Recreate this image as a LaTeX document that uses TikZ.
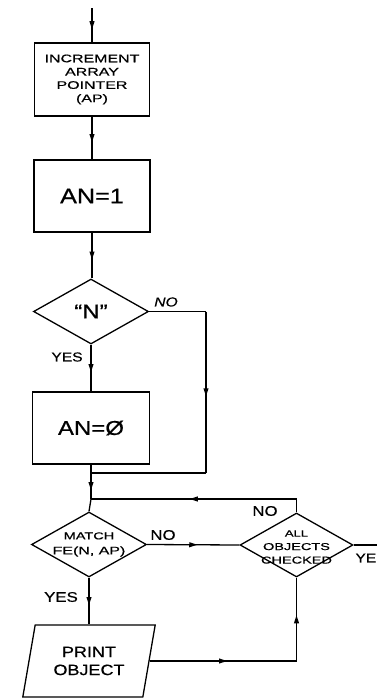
\documentclass[tikz,border=0pt]{standalone}
\usepackage{fontspec}
\setmainfont{Liberation Sans}
\newfontfamily\handA[FakeStretch=1.2,FakeBold=0.6]{Liberation Sans}
\newfontfamily\handB[FakeStretch=1.45,FakeBold=0.6]{Liberation Sans}
\usetikzlibrary{shapes.geometric,decorations.markings}
\begin{document}
\begin{tikzpicture}[x=1pt,y=-1pt,
  ln/.style={line width=1.3pt},
  flow/.style={ln, postaction={decorate}, decoration={markings,
      mark=at position 0.5 with {\fill (4pt,0pt) -- (-4pt,2.6pt) -- (-4pt,-2.6pt) -- cycle;}}},
  procbox/.style={draw, ln, rectangle, inner sep=0pt, align=center},
  decbox/.style={draw, ln, diamond, inner sep=0pt, aspect=1.77},
  inner/.style={inner sep=0pt, align=center},
  iobox/.style={draw, ln, trapezium, trapezium left angle=74, trapezium right angle=106,
      trapezium stretches=true, inner sep=0pt, align=center},
  lbl/.style={inner sep=0pt, font=\handA\fontsize{14}{14}\selectfont}
]
\fill[white] (0,0) rectangle (377,699);
\useasboundingbox (0,0) rectangle (377,699);

% nodes
\node[procbox, minimum width=115pt, minimum height=73pt,
      font=\handB\fontsize{11}{13.3}\selectfont] (inc) at (92,79.5)
      {INCREMENT\\ARRAY\\POINTER\\(AP)};
\node[procbox, minimum width=116pt, minimum height=72pt,
      font=\handA\fontsize{21}{21}\selectfont] (an1) at (92,196) {AN=1};
\node[decbox, minimum width=115pt, minimum height=65pt] (dN) at (91,311.5) {};
\node[inner, font=\handA\fontsize{20}{20}\selectfont] (dNt) at (dN.center) {“N”};
\node[procbox, minimum width=117pt, minimum height=72pt,
      font=\handA\fontsize{20}{20}\selectfont] (box3) at (91,428) {AN=Ø};
\node[decbox, minimum width=115pt, minimum height=65pt] (match) at (89,544.5) {};
\node[inner, font=\handB\fontsize{10}{15}\selectfont] (matcht) at (match.center)
      {MATCH\\{\fontsize{11}{15}\selectfont FE(N, AP)}};
\node[decbox, minimum width=113pt, minimum height=64pt] (all) at (296.5,545) {};
\node[inner, font=\handB\fontsize{10}{13.5}\selectfont] (allt) at ([yshift=-2pt]all.center)
      {{\fontsize{9}{13.5}\selectfont ALL}\\OBJECTS\\CHECKED};
\node[iobox, minimum width=133pt, minimum height=72pt,
      font=\handA\fontsize{15}{18}\selectfont] (print) at (89,661)
      {PRINT\\OBJECT};

% labels
\node[lbl, font=\handA\itshape\fontsize{13}{13}\selectfont] (noN) at (166,302) {NO};
\node[lbl, font=\handA\fontsize{13}{13}\selectfont] (yesN) at (67,357) {YES};
\node[lbl] (noM) at (163,535) {NO};
\node[lbl] (noA) at (265,511) {NO};
\node[lbl, anchor=east, font=\handA\fontsize{13}{13}\selectfont] (yeA) at (376.5,558) {YE};
\node[lbl] (yesM) at (61,597) {YES};

% coordinates
\coordinate (start) at (92,8);
\coordinate (nr) at (206,311.5);
\coordinate (nrd) at (206,473);
\coordinate (merge) at (91,473);
\coordinate (join) at (91,499);
\coordinate (ar) at (296.5,499);
\coordinate (pr) at (print.east -| all.south);
\coordinate (ye) at (377,545);
\coordinate (pt) at (match.south |- print.north);

% connectors
\draw[flow] (start) -- (inc.north);
\draw[flow] (inc.south) -- (an1.north);
\draw[flow] (an1.south) -- (an1.south |- dN.north);
\draw[flow] (dN.south) -- (box3.north);
\draw[ln] (dN.east) -- (nr);
\draw[flow] (nr) -- (nrd);
\draw[ln] (nrd) -- (merge);
\draw[ln] (box3.south) -- (merge);
\draw[flow] (merge) -- (join);
\draw[ln] (join) -- (match.north);
\draw[ln] (all.north) -- (ar);
\draw[flow] (ar) -- (join);
\draw[flow] (match.east) -- (all.west);
\draw[flow] (match.south) -- (pt);
\draw[flow] (print.east) -- (pr);
\draw[flow] (pr) -- (all.south);
\draw[ln] (all.east) -- (ye);
\end{tikzpicture}
\end{document}
